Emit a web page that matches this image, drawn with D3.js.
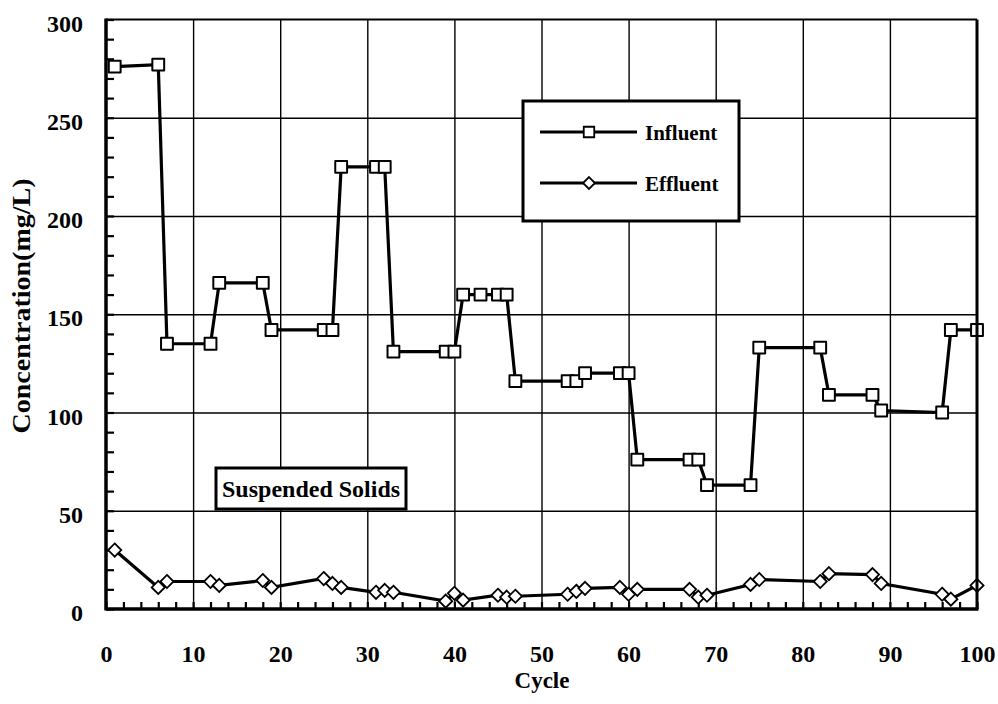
<!DOCTYPE html>
<html>
<head>
<meta charset="utf-8">
<script src="https://cdn.jsdelivr.net/npm/d3@7"></script>
<style>
  html, body { margin: 0; padding: 0; background: #fff; }
  svg { display: block; }
  svg text { font-family: "Liberation Serif", Tinos, "Times New Roman", serif; font-weight: bold; fill: #000; }
</style>
</head>
<body>
<svg id="chart" width="998" height="704"></svg>
<script>
// ---- data ----
const influentCycles = [1,6,7,12,13,18,19,25,26,27,31,32,33,39,40,41,43,45,46,47,53,54,55,59,60,61,67,68,69,74,75,82,83,88,89,96,97,100];
const influentValues = [276,277,135,135,166,166,142,142,142,225,225,225,131,131,131,160,160,160,160,116,116,116,120,120,120,76,76,76,63,63,133,133,109,109,101,100,142,142];
const effluentCycles = [1,6,7,12,13,18,19,25,26,27,31,32,33,39,40,41,45,46,47,53,54,55,59,60,61,67,68,69,74,75,82,83,88,89,96,97,100];
const effluentValues = [30,11,14,14,12,14.5,11,15.5,13,11,8.5,9.5,8.5,4,8,4.5,7,6,6.5,7.5,9,10.5,11,7.5,10,10,6,7,12.5,15,14,18,17.5,13,7.5,5,12];
const xTickLabels = [0,10,20,30,40,50,60,70,80,90,100];
const yTickLabels = [0,50,100,150,200,250,300];
const seriesNames = ["Influent", "Effluent"];
const xTitle = "Cycle";
const yTitle = "Concentration(mg/L)";
const noteText = "Suspended Solids";

// ---- layout ----
const FONT = "'Liberation Serif', Tinos, 'Times New Roman', serif";
const svg = d3.select("#chart");
const L = 106, R = 977, T = 19.5, B = 609;
const x = d3.scaleLinear().domain([0, 100]).range([L, R]);
const y = d3.scaleLinear().domain([0, 300]).range([B, T]);

// gridlines
svg.append("g")
  .attr("transform", `translate(0,${B})`)
  .call(d3.axisBottom(x).tickValues(xTickLabels.filter(v => v > 0 && v < 100)).tickSize(-(B - T)).tickFormat(""))
  .call(g => g.select(".domain").remove())
  .call(g => g.selectAll("line").attr("stroke", "#000").attr("stroke-width", 1.4));
svg.append("g")
  .attr("transform", `translate(${L},0)`)
  .call(d3.axisLeft(y).tickValues(yTickLabels.filter(v => v > 0 && v < 300)).tickSize(-(R - L)).tickFormat(""))
  .call(g => g.select(".domain").remove())
  .call(g => g.selectAll("line").attr("stroke", "#000").attr("stroke-width", 1.4));

// minor ticks (inward)
svg.append("g")
  .attr("transform", `translate(0,${B})`)
  .call(d3.axisBottom(x).tickValues(d3.range(0, 101, 2)).tickSize(-7).tickFormat(""))
  .call(g => g.select(".domain").remove())
  .call(g => g.selectAll("line").attr("stroke", "#000").attr("stroke-width", 2.2));
svg.append("g")
  .attr("transform", `translate(${L},0)`)
  .call(d3.axisLeft(y).tickValues(d3.range(0, 301, 10)).tickSize(-8).tickFormat(""))
  .call(g => g.select(".domain").remove())
  .call(g => g.selectAll("line").attr("stroke", "#000").attr("stroke-width", 2.2));

// tick labels
svg.append("g")
  .attr("transform", `translate(0,${B})`)
  .call(d3.axisBottom(x).tickValues(xTickLabels).tickSize(0).tickPadding(0).tickFormat(d3.format("d")))
  .attr("font-family", FONT)
  .call(g => g.select(".domain").remove())
  .call(g => g.selectAll("text").attr("font-size", 24).attr("dy", null).attr("y", 53)
    .attr("font-family", FONT).attr("font-weight", "bold"));
svg.append("g")
  .attr("transform", `translate(${L},0)`)
  .call(d3.axisLeft(y).tickValues(yTickLabels).tickSize(0).tickPadding(0).tickFormat(d3.format("d")))
  .attr("font-family", FONT)
  .call(g => g.select(".domain").remove())
  .call(g => g.selectAll("text").attr("font-size", 24).attr("x", -23).attr("dy", "0.48em")
    .attr("font-family", FONT).attr("font-weight", "bold"));

// axis titles
svg.append("text").attr("x", 542).attr("y", 688).attr("text-anchor", "middle")
  .attr("font-family", FONT).attr("font-size", 23).text(xTitle);
svg.append("text").attr("transform", "translate(30,306) rotate(-90)").attr("text-anchor", "middle")
  .attr("font-family", FONT).attr("font-size", 25).attr("textLength", 255).attr("lengthAdjust", "spacingAndGlyphs").text(yTitle);

// series
const inf = influentCycles.map((c, i) => [c, influentValues[i]]);
const eff = effluentCycles.map((c, i) => [c, effluentValues[i]]);
const line = d3.line().x(d => x(d[0])).y(d => y(d[1]));

svg.append("path").datum(inf).attr("d", line).attr("fill", "none").attr("stroke", "#000").attr("stroke-width", 3.2);
svg.append("path").datum(eff).attr("d", line).attr("fill", "none").attr("stroke", "#000").attr("stroke-width", 3.2);

const sq = d3.symbol().type(d3.symbolSquare).size(140);
const di = d3.symbol().type(d3.symbolDiamond2).size(110);

svg.append("g").selectAll("path").data(inf).join("path")
  .attr("d", sq).attr("transform", d => `translate(${x(d[0])},${y(d[1])})`)
  .attr("fill", "#fff").attr("stroke", "#000").attr("stroke-width", 2).attr("stroke-linejoin", "round");
svg.append("g").selectAll("path").data(eff).join("path")
  .attr("d", di).attr("transform", d => `translate(${x(d[0])},${y(d[1])})`)
  .attr("fill", "#fff").attr("stroke", "#000").attr("stroke-width", 1.8);

// frame
svg.append("line").attr("x1", L).attr("x2", R).attr("y1", T).attr("y2", T).attr("stroke", "#000").attr("stroke-width", 2);
svg.append("line").attr("x1", R).attr("x2", R).attr("y1", T).attr("y2", B).attr("stroke", "#000").attr("stroke-width", 3);
svg.append("line").attr("x1", L).attr("x2", R + 1.5).attr("y1", B).attr("y2", B).attr("stroke", "#000").attr("stroke-width", 3.5);
svg.append("line").attr("x1", L).attr("x2", L).attr("y1", T - 1).attr("y2", B + 1.5).attr("stroke", "#000").attr("stroke-width", 3.5);

// legend
const lg = svg.append("g");
lg.append("rect").attr("x", 523).attr("y", 101).attr("width", 216).attr("height", 120)
  .attr("fill", "#fff").attr("stroke", "#000").attr("stroke-width", 3);
const legY = [132, 183];
seriesNames.forEach((name, i) => {
  lg.append("line").attr("x1", 540).attr("x2", 637).attr("y1", legY[i]).attr("y2", legY[i])
    .attr("stroke", "#000").attr("stroke-width", 3);
  lg.append("path").attr("d", i === 0 ? d3.symbol().type(d3.symbolSquare).size(110)() : d3.symbol().type(d3.symbolDiamond2).size(90)())
    .attr("transform", `translate(589,${legY[i]})`)
    .attr("fill", "#fff").attr("stroke", "#000").attr("stroke-width", 1.8);
  lg.append("text").attr("x", 645).attr("y", legY[i] + 8).attr("font-family", FONT).attr("font-size", 21).text(name);
});

// note box
svg.append("rect").attr("x", 216).attr("y", 468).attr("width", 190).attr("height", 41)
  .attr("fill", "#fff").attr("stroke", "#000").attr("stroke-width", 3);
svg.append("text").attr("x", 222).attr("y", 497).attr("font-family", FONT).attr("font-size", 24).text(noteText);
</script>
</body>
</html>
